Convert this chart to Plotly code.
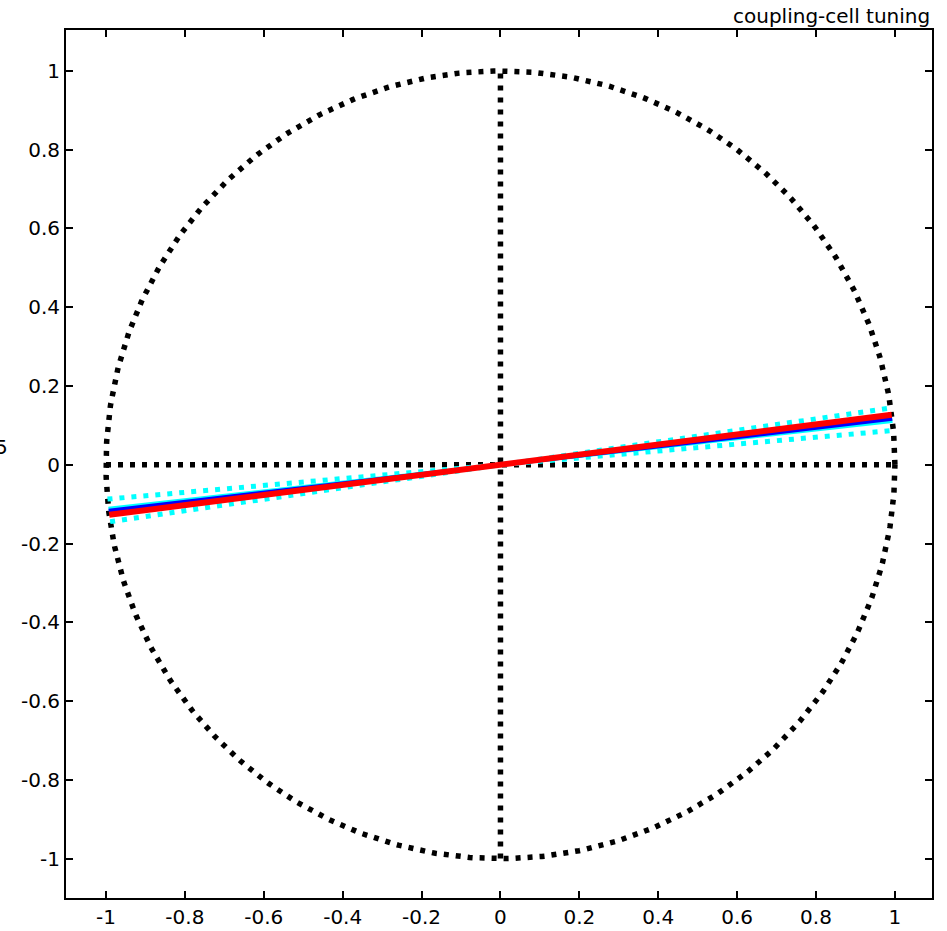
import numpy as np
import plotly.graph_objects as go

# Phase-angle lines through the origin (degrees), drawn as diameters of the unit circle
cyan_dotted_angles = [5.0, 8.3]
cyan_solid_angle = 6.4
blue_angle = 6.7
red_angle = 7.3

x_ticks = [-1, -0.8, -0.6, -0.4, -0.2, 0, 0.2, 0.4, 0.6, 0.8, 1]
y_ticks = [-1, -0.8, -0.6, -0.4, -0.2, 0, 0.2, 0.4, 0.6, 0.8, 1]
tick_text = ["-1", "-0.8", "-0.6", "-0.4", "-0.2", "0", "0.2", "0.4", "0.6", "0.8", "1"]

DOT = "5px,7px"
FONT = "DejaVu Sans, Arial, sans-serif"


def diameter(angle_deg):
    a = np.deg2rad(angle_deg)
    return [-np.cos(a), np.cos(a)], [-np.sin(a), np.sin(a)]


fig = go.Figure()

# unit circle and dotted cross-hairs
theta = np.linspace(0, 2 * np.pi, 721)
fig.add_trace(go.Scatter(x=np.cos(theta), y=np.sin(theta), mode="lines",
                         line=dict(color="black", width=5.5, dash=DOT), hoverinfo="skip"))
fig.add_trace(go.Scatter(x=[-1, 1], y=[0, 0], mode="lines",
                         line=dict(color="black", width=5.5, dash=DOT), hoverinfo="skip"))
fig.add_trace(go.Scatter(x=[0, 0], y=[-1, 1], mode="lines",
                         line=dict(color="black", width=5.5, dash=DOT), hoverinfo="skip"))

for ang in cyan_dotted_angles:
    xs, ys = diameter(ang)
    fig.add_trace(go.Scatter(x=xs, y=ys, mode="lines",
                             line=dict(color="#00ffff", width=5, dash=DOT)))

xs, ys = diameter(cyan_solid_angle)
fig.add_trace(go.Scatter(x=xs, y=ys, mode="lines", line=dict(color="#00ffff", width=4)))
xs, ys = diameter(blue_angle)
fig.add_trace(go.Scatter(x=xs, y=ys, mode="lines", line=dict(color="#0000ff", width=4)))
xs, ys = diameter(red_angle)
fig.add_trace(go.Scatter(x=xs, y=ys, mode="lines", line=dict(color="#ff0000", width=6)))

axis_common = dict(
    showgrid=False, zeroline=False, showline=True, linecolor="black", linewidth=2,
    mirror="ticks", ticks="inside", ticklen=7, tickwidth=2, tickcolor="black",
    automargin=False,
    tickfont=dict(family=FONT, size=20, color="black"),
)
fig.update_xaxes(range=[-1.1014, 1.094], tickvals=x_ticks, ticktext=tick_text, **axis_common)
fig.update_yaxes(range=[-1.1, 1.104], tickvals=y_ticks, ticktext=tick_text, **axis_common)

fig.update_layout(
    width=947, height=931,
    margin=dict(l=66, r=15, t=30, b=33),
    plot_bgcolor="white", paper_bgcolor="white",
    showlegend=False,
    annotations=[
        dict(text="coupling-cell tuning", xref="paper", yref="paper", x=1.0, y=1.0,
             xanchor="right", yanchor="bottom", showarrow=False, yshift=0,
             font=dict(family=FONT, size=20, color="black")),
        dict(text="5", xref="paper", yref="paper", x=(10 - 66) / 866, y=(898 - 447) / 868,
             xanchor="right", yanchor="middle", showarrow=False,
             font=dict(family=FONT, size=20, color="black")),
    ],
)

fig.write_html("out.html")
